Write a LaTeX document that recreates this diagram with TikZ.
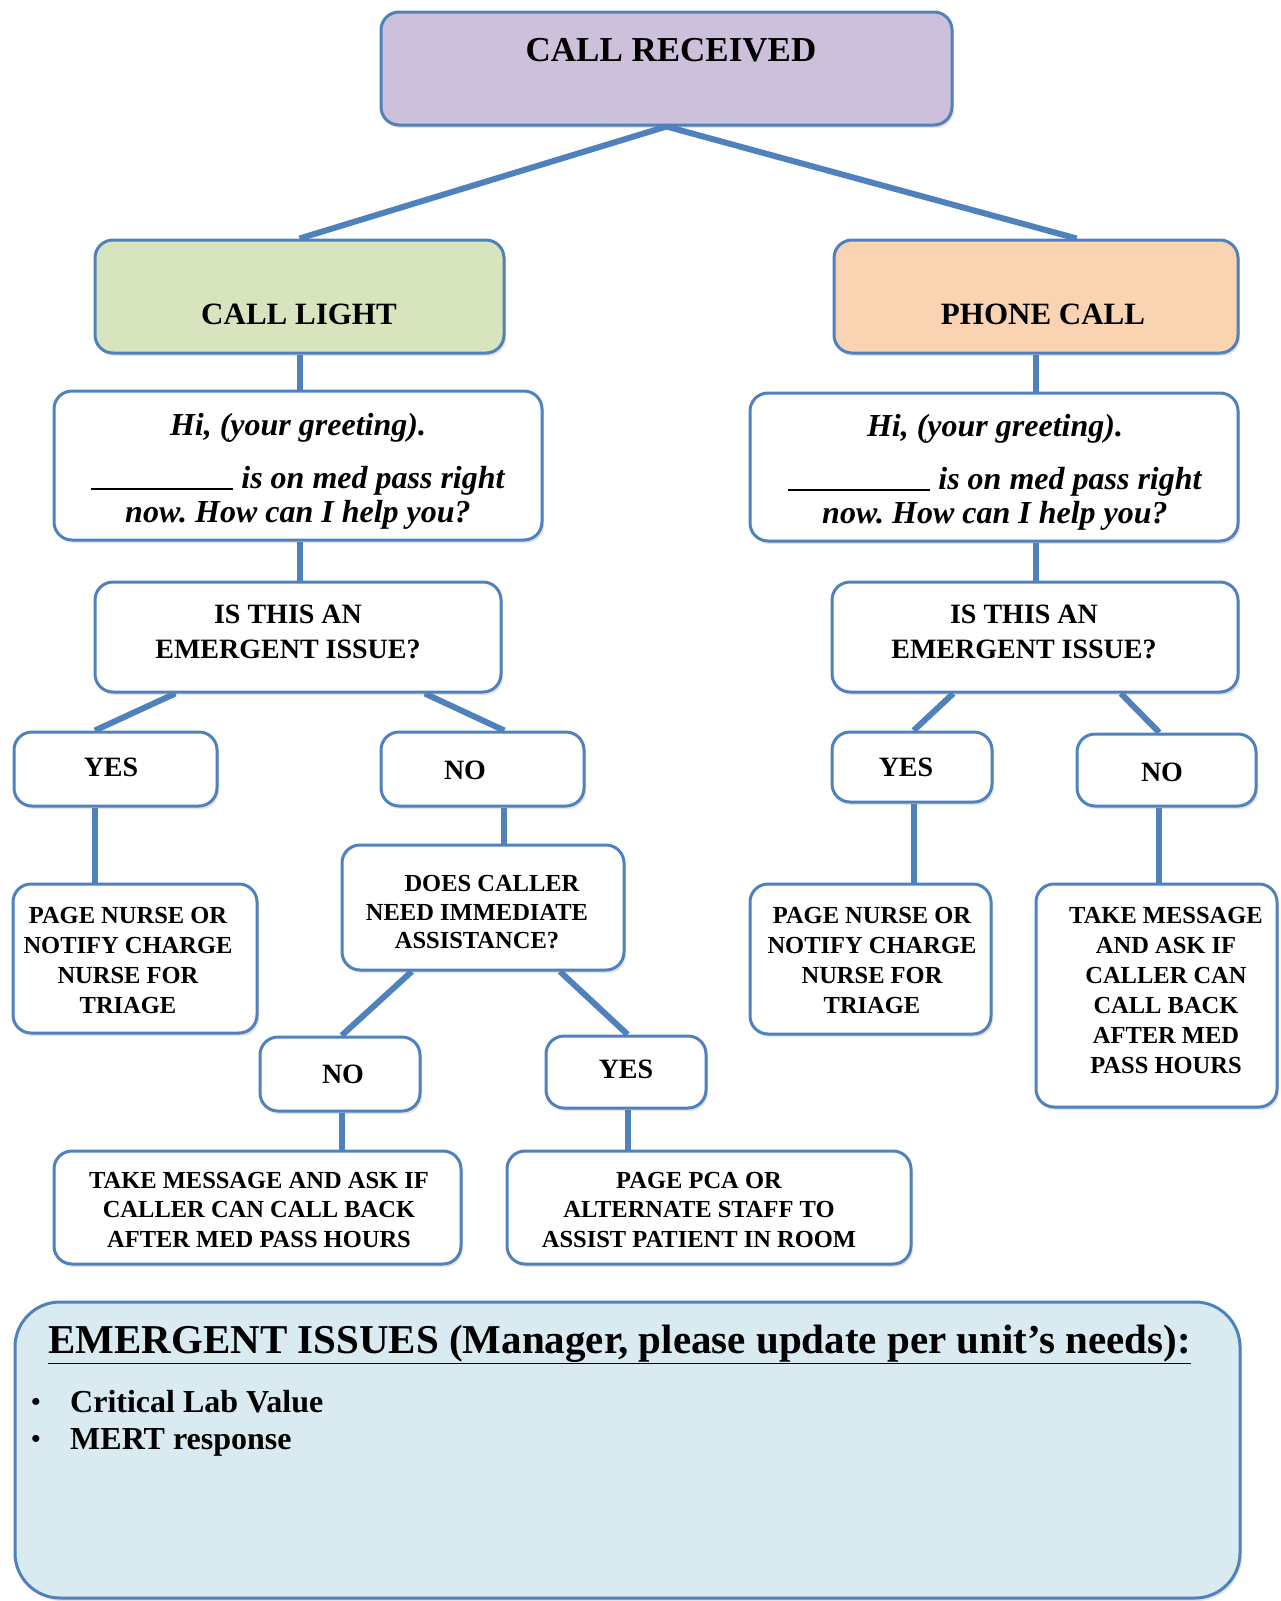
\documentclass[tikz,border=0pt]{standalone}
\usepackage{fontspec}
\setmainfont{Liberation Serif}
\usetikzlibrary{calc,shadows}
\pgfdeclarelayer{background}
\pgfsetlayers{background,main}
\definecolor{bord}{HTML}{4F81BD}
\definecolor{topfill}{HTML}{CCC0DA}
\definecolor{greenfill}{HTML}{D7E4BD}
\definecolor{peachfill}{HTML}{FAD3B3}
\definecolor{bluefill}{HTML}{D9EAF1}
\frenchspacing
\begin{document}
\begin{tikzpicture}[x=1pt,y=-1pt,
  box/.style={draw=bord, line width=3pt, rounded corners=18pt, fill=white, inner sep=0pt,
    drop shadow={shadow xshift=2pt,shadow yshift=-3pt,opacity=0.22}},
  conn/.style={draw=bord, line width=6pt},
  txt/.style={align=center, inner sep=0pt, font=\bfseries\fontsize{24.5}{30}\selectfont},
  bigtxt/.style={align=center, inner sep=0pt, font=\bfseries\fontsize{28}{35}\selectfont},
  greet/.style={align=center, inner sep=0pt, font=\bfseries\itshape\fontsize{32}{34}\selectfont},
]
\useasboundingbox (0,0) rectangle (1281,1601);

% boxes
\node[box, fill=topfill, minimum width=571pt, minimum height=113pt] (top) at (666.5,68.5) {};
\node[box, fill=greenfill, minimum width=409pt, minimum height=113pt] (cl) at (299.5,296.5) {};
\node[box, fill=peachfill, minimum width=404pt, minimum height=113pt] (pc) at (1036,296.5) {};
\node[box, minimum width=488pt, minimum height=149pt] (gl) at (298,465.5) {};
\node[box, minimum width=488pt, minimum height=148pt] (gr) at (994,467) {};
\node[box, minimum width=406pt, minimum height=110pt] (eml) at (298,637) {};
\node[box, minimum width=406pt, minimum height=110pt] (emr) at (1035,637) {};
\node[box, minimum width=203pt, minimum height=74pt] (yesl) at (115.5,769) {};
\node[box, minimum width=203pt, minimum height=74pt] (nol) at (482.5,769) {};
\node[box, minimum width=160pt, minimum height=70pt] (yesr) at (912,767) {};
\node[box, minimum width=179pt, minimum height=72pt] (nor) at (1166.5,770) {};
\node[box, minimum width=244pt, minimum height=149pt] (pnl) at (135,958.5) {};
\node[box, minimum width=282pt, minimum height=125pt] (dc) at (483,907.5) {};
\node[box, minimum width=241pt, minimum height=150pt] (pnr) at (870.5,959) {};
\node[box, minimum width=241pt, minimum height=223pt] (tmr) at (1156.5,995.5) {};
\node[box, minimum width=160pt, minimum height=74pt] (no2) at (340,1074) {};
\node[box, minimum width=160pt, minimum height=72pt] (yes2) at (626,1072) {};
\node[box, minimum width=407pt, minimum height=113pt] (tml) at (257.5,1207.5) {};
\node[box, minimum width=404pt, minimum height=113pt] (pca) at (709,1207.5) {};
\node[box, fill=bluefill, rounded corners=45pt, minimum width=1225pt, minimum height=296pt] (em) at (627.5,1450) {};

% texts
\node[align=center, inner sep=0pt, font=\bfseries\fontsize{35}{42}\selectfont] (topT) at (671,50.5) {CALL RECEIVED};
\node[align=center, inner sep=0pt, font=\bfseries\fontsize{31}{38}\selectfont] (clT) at (299,314) {CALL LIGHT};
\node[align=center, inner sep=0pt, font=\bfseries\fontsize{31}{38}\selectfont] (pcT) at (1043,314) {PHONE CALL};
\node[greet] (glT) at (298,471) {Hi, (your greeting).\\[19pt]\rule[-2pt]{142pt}{1.8pt} is on med pass right\\now. How can I help you?};
\node[greet] (grT) at (995,472) {Hi, (your greeting).\\[19pt]\rule[-2pt]{142pt}{1.8pt} is on med pass right\\now. How can I help you?};
\node[bigtxt] (emlT) at (288,631.5) {IS THIS AN\\EMERGENT ISSUE?};
\node[bigtxt] (emrT) at (1024,631.5) {IS THIS AN\\EMERGENT ISSUE?};
\node[bigtxt] (yeslT) at (111,767) {YES};
\node[bigtxt] (nolT) at (465,770) {NO};
\node[bigtxt] (yesrT) at (906,767) {YES};
\node[bigtxt] (norT) at (1162,772) {NO};
\node[txt] (pnlT) at (128,960) {PAGE NURSE OR\\NOTIFY CHARGE\\NURSE FOR\\TRIAGE};
\node[txt, font=\bfseries\fontsize{24.5}{28.5}\selectfont] (dcT) at (477,912.5) {\hspace*{30pt}DOES CALLER\\NEED IMMEDIATE\\ASSISTANCE?};
\node[txt] (pnrT) at (872,960) {PAGE NURSE OR\\NOTIFY CHARGE\\NURSE FOR\\TRIAGE};
\node[txt] (tmrT) at (1166,990) {TAKE MESSAGE\\AND ASK IF\\CALLER CAN\\CALL BACK\\AFTER MED\\PASS HOURS};
\node[bigtxt] (no2T) at (343,1074) {NO};
\node[bigtxt] (yes2T) at (626,1069) {YES};
\node[txt, font=\bfseries\fontsize{24.5}{29.5}\selectfont] (tmlT) at (259,1209.5) {TAKE MESSAGE AND ASK IF\\CALLER CAN CALL BACK\\AFTER MED PASS HOURS};
\node[txt, font=\bfseries\fontsize{24.5}{29.5}\selectfont] (pcaT) at (699,1209.5) {PAGE PCA OR\\ALTERNATE STAFF TO\\ASSIST PATIENT IN ROOM};
\node[anchor=base west, inner sep=0pt, font=\bfseries\fontsize{41}{48}\selectfont] (emT) at (48,1353) {\underline{EMERGENT ISSUES (Manager, please update per unit’s needs):}};
\node[anchor=base, inner sep=0pt, font=\bfseries\fontsize{26}{36}\selectfont] (b1d) at (36,1410) {\textbullet};
\node[anchor=base west, inner sep=0pt, font=\bfseries\fontsize{32}{36}\selectfont] (b1) at (70,1412) {Critical Lab Value};
\node[anchor=base, inner sep=0pt, font=\bfseries\fontsize{26}{36}\selectfont] (b2d) at (36,1447) {\textbullet};
\node[anchor=base west, inner sep=0pt, font=\bfseries\fontsize{32}{36}\selectfont] (b2) at (70,1449) {MERT response};

% connectors
\begin{pgfonlayer}{background}
\draw[conn] (top.south) -- (cl.north);
\draw[conn] (top.south) -- ($(pc.north west)!0.6!(pc.north east)$);
\draw[conn] (cl.south) -- (cl.south |- gl.north);
\draw[conn] (cl.south |- gl.south) -- (cl.south |- eml.north);
\draw[conn] (pc.south) -- (pc.south |- gr.north);
\draw[conn] (pc.south |- gr.south) -- (pc.south |- emr.north);
\draw[conn] ($(eml.south west)!0.2!(eml.south east)$) -- ($(yesl.north west)!0.4!(yesl.north east)$);
\draw[conn] ($(eml.south west)!0.81!(eml.south east)$) -- ($(nol.north west)!0.606!(nol.north east)$);
\draw[conn] ($(emr.south west)!0.30!(emr.south east)$) -- ($(yesr.north west)!0.51!(yesr.north east)$);
\draw[conn] ($(emr.south west)!0.71!(emr.south east)$) -- ($(nor.north west)!0.46!(nor.north east)$);
\coordinate (v1) at ($(yesl.south west)!0.4!(yesl.south east)$);
\draw[conn] (v1) -- (v1 |- pnl.north);
\coordinate (v2) at ($(nol.south west)!0.606!(nol.south east)$);
\draw[conn] (v2) -- (v2 |- dc.north);
\coordinate (v3) at ($(yesr.south west)!0.51!(yesr.south east)$);
\draw[conn] (v3) -- (v3 |- pnr.north);
\coordinate (v4) at ($(nor.south west)!0.46!(nor.south east)$);
\draw[conn] (v4) -- (v4 |- tmr.north);
\draw[conn] ($(dc.south west)!0.25!(dc.south east)$) -- ($(no2.north west)!0.51!(no2.north east)$);
\draw[conn] ($(dc.south west)!0.77!(dc.south east)$) -- ($(yes2.north west)!0.51!(yes2.north east)$);
\coordinate (v5) at ($(no2.south west)!0.51!(no2.south east)$);
\draw[conn] (v5) -- (v5 |- tml.north);
\coordinate (v6) at ($(yes2.south west)!0.51!(yes2.south east)$);
\draw[conn] (v6) -- (v6 |- pca.north);
\end{pgfonlayer}
\end{tikzpicture}
\end{document}
